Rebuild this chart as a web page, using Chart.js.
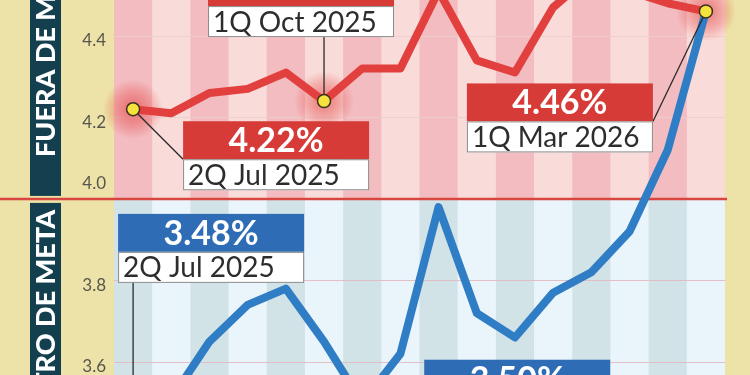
<!DOCTYPE html>
<html>
<head>
<meta charset="utf-8">
<script src="https://cdn.jsdelivr.net/npm/chart.js@4.4.1/dist/chart.umd.min.js"></script>
<style>
  html, body { margin: 0; padding: 0; background: #ede2a7; }
  #wrap { width: 750px; height: 375px; position: relative; overflow: hidden; }
</style>
</head>
<body>
<div id="wrap"><canvas id="chart" width="750" height="375"></canvas></div>
<script>
// ---- data ----
const periods = [
  "2Q Jul 2025", "1Q Ago 2025", "2Q Ago 2025", "1Q Sep 2025", "2Q Sep 2025",
  "1Q Oct 2025", "2Q Oct 2025", "1Q Nov 2025", "2Q Nov 2025", "1Q Dic 2025",
  "2Q Dic 2025", "1Q Ene 2026", "2Q Ene 2026", "1Q Feb 2026", "2Q Feb 2026",
  "1Q Mar 2026"
];
const fueraValues  = [4.22, 4.21, 4.26, 4.27, 4.31, 4.24, 4.32, 4.32, 4.51, 4.34, 4.31, 4.47, 4.55, 4.51, 4.48, 4.46];
const dentroValues = [3.48, 3.51, 3.65, 3.74, 3.78, 3.65, 3.50, 3.62, 3.98, 3.72, 3.66, 3.77, 3.82, 3.92, 4.12, 4.46];
const yTicks = [3.6, 3.8, 4.0, 4.2, 4.4];
const metaLimit = 4.0;
const fueraCallouts = [0, 5, 15];
const dentroCallouts = [0, 6];

const FONT = "Lato, 'Open Sans', sans-serif";

/* =========================
   BACKGROUND PANELS
========================== */
const backdrop = {
  id: "backdrop",
  beforeDraw(chart) {
    const { ctx, chartArea: a, scales: { x, y } } = chart;
    const y0 = y.getPixelForValue(metaLimit);
    const half = (x.getPixelForValue(1) - x.getPixelForValue(0)) / 2;

    ctx.save();
    ctx.fillStyle = "#ede2a7";
    ctx.fillRect(0, 0, chart.width, chart.height);

    // panels
    ctx.fillStyle = "#f9dcd9";
    ctx.fillRect(a.left, a.top, a.right - a.left, y0 - a.top);
    ctx.fillStyle = "#eaf5fb";
    ctx.fillRect(a.left, y0, a.right - a.left, a.bottom - y0);

    // stripes
    periods.forEach((p, i) => {
      if (i % 2) return;
      const cx = x.getPixelForValue(i);
      ctx.fillStyle = "#f3bcc0";
      ctx.fillRect(cx - half, a.top, half * 2, y0 - a.top);
      ctx.fillStyle = "#d2e3e8";
      ctx.fillRect(cx - half, y0, half * 2, a.bottom - y0);
    });

    // grid
    ctx.lineWidth = 1.2;
    yTicks.forEach(t => {
      if (t === metaLimit) return;
      const py = Math.round(y.getPixelForValue(t)) + 0.5;
      ctx.strokeStyle = t > metaLimit ? "rgba(235,205,205,0.9)" : "rgba(226,185,192,0.9)";
      ctx.beginPath();
      ctx.moveTo(a.left, py);
      ctx.lineTo(a.right, py);
      ctx.stroke();
    });

    // divider
    ctx.strokeStyle = "#d8463f";
    ctx.lineWidth = 2.5;
    ctx.beginPath();
    ctx.moveTo(0, y0);
    ctx.lineTo(a.right + 2, y0);
    ctx.stroke();

    // side bars
    ctx.fillStyle = "#143f4f";
    ctx.fillRect(30, 0, 31, y0 - 3);
    ctx.fillRect(30, y0 + 4, 31, chart.height - y0);

    ctx.fillStyle = "#ffffff";
    ctx.font = "900 27px " + FONT;
    ctx.textBaseline = "middle";
    ctx.save();
    ctx.translate(46, y0 - 42);
    ctx.rotate(-Math.PI / 2);
    ctx.textAlign = "left";
    ctx.fillText("FUERA DE META", 0, 0);
    ctx.restore();
    ctx.save();
    ctx.translate(46, y0 + 11);
    ctx.rotate(-Math.PI / 2);
    ctx.textAlign = "right";
    ctx.fillText("DENTRO DE META", 0, 0);
    ctx.restore();

    // tick labels
    ctx.fillStyle = "#56564e";
    ctx.font = "17px " + FONT;
    ctx.textAlign = "right";
    yTicks.forEach(t => {
      const py = y.getPixelForValue(t) + (t === metaLimit ? -15 : 5);
      ctx.fillText(t.toFixed(1), 106, py);
    });
    ctx.restore();
  }
};

/* =========================
   CALLOUTS
========================== */
// layout of each box relative to its point: dx = box left, dy = colour/white split
const calloutLayout = {
  "0-0":  { dx: 50,   dy: 50,   lead: "tl" },
  "0-5":  { dx: -116, dy: -95,  lead: "below" },
  "0-15": { dx: -239, dy: 110,  lead: "tr" },
  "1-0":  { dx: -15,  dy: -159, lead: "below" },
  "1-6":  { dx: 62,   dy: -5,   lead: "bl" }
};

function haloAt(ctx, px, py) {
  const g = ctx.createRadialGradient(px, py, 2, px, py, 30);
  g.addColorStop(0, "rgba(226,60,60,0.6)");
  g.addColorStop(0.6, "rgba(226,60,60,0.28)");
  g.addColorStop(1, "rgba(226,60,60,0)");
  ctx.fillStyle = g;
  ctx.beginPath();
  ctx.arc(px, py, 30, 0, Math.PI * 2);
  ctx.fill();
}

const callouts = {
  id: "callouts",
  beforeDatasetsDraw(chart) {
    const ctx = chart.ctx;
    ctx.save();
    fueraCallouts.forEach(i => {
      const pt = chart.getDatasetMeta(0).data[i];
      haloAt(ctx, pt.x, pt.y);
    });
    ctx.restore();
  },
  afterDatasetsDraw(chart) {
    const ctx = chart.ctx;
    const W = 186, HC = 38, HW = 31;
    const sets = [
      { ds: 0, list: fueraCallouts, values: fueraValues, color: "#d63b38" },
      { ds: 1, list: dentroCallouts, values: dentroValues, color: "#2e6db5" }
    ];
    ctx.save();
    sets.forEach(s => {
      const meta = chart.getDatasetMeta(s.ds);
      s.list.forEach(i => {
        const pt = meta.data[i];
        const L = calloutLayout[s.ds + "-" + i];
        const bx = pt.x + L.dx, split = pt.y + L.dy;

        // leader line
        let lx, ly;
        if (L.lead === "tl") { lx = bx; ly = split; }
        else if (L.lead === "tr") { lx = bx + W; ly = split; }
        else if (L.lead === "bl") { lx = bx; ly = split + HW; }
        else { lx = pt.x; ly = split + HW; }
        ctx.strokeStyle = "#2a2a2a";
        ctx.lineWidth = 1.3;
        ctx.beginPath();
        ctx.moveTo(pt.x, pt.y);
        ctx.lineTo(lx, ly);
        ctx.stroke();

        // boxes
        ctx.fillStyle = s.color;
        ctx.fillRect(bx, split - HC, W, HC);
        ctx.fillStyle = "#ffffff";
        ctx.fillRect(bx, split, W, HW);
        ctx.strokeStyle = "#8a8a8a";
        ctx.lineWidth = 1;
        ctx.strokeRect(bx + 0.5, split + 0.5, W - 1, HW - 1);

        ctx.textBaseline = "middle";
        ctx.fillStyle = "#ffffff";
        ctx.font = "bold 34px " + FONT;
        ctx.textAlign = "center";
        ctx.fillText(s.values[i].toFixed(2) + "%", bx + W / 2, split - HC / 2 + 1);
        ctx.fillStyle = "#2d2d2d";
        ctx.font = "28px " + FONT;
        ctx.textAlign = "left";
        ctx.fillText(periods[i], bx + 5, split + HW / 2 + 1);

        // marker dot
        if (s.ds === 0 || i === 0) {
          ctx.fillStyle = "#f4e33c";
          ctx.strokeStyle = "#3a3020";
          ctx.lineWidth = 1.5;
          ctx.beginPath();
          ctx.arc(pt.x, pt.y, 6.5, 0, Math.PI * 2);
          ctx.fill();
          ctx.stroke();
        }
      });
    });
    ctx.restore();
  }
};

/* =========================
   CHART
========================== */
const ctx = document.getElementById("chart").getContext("2d");
new Chart(ctx, {
  type: "line",
  data: {
    labels: periods,
    datasets: [
      {
        label: "Fuera de meta",
        data: fueraValues,
        borderColor: "#e2403e",
        borderWidth: 8,
        pointRadius: 0,
        borderJoinStyle: "round",
        borderCapStyle: "round",
        tension: 0
      },
      {
        label: "Dentro de meta",
        data: dentroValues,
        borderColor: "#2f7dc4",
        borderWidth: 8,
        pointRadius: 0,
        borderJoinStyle: "round",
        borderCapStyle: "round",
        tension: 0
      }
    ]
  },
  options: {
    responsive: false,
    animation: false,
    layout: { padding: { left: 114, right: 25, top: 0, bottom: 0 } },
    plugins: { legend: { display: false }, tooltip: { enabled: false } },
    scales: {
      x: { display: false, offset: true },
      y: { display: false, min: 3.568, max: 4.488 }
    }
  },
  plugins: [backdrop, callouts]
});
</script>
</body>
</html>
